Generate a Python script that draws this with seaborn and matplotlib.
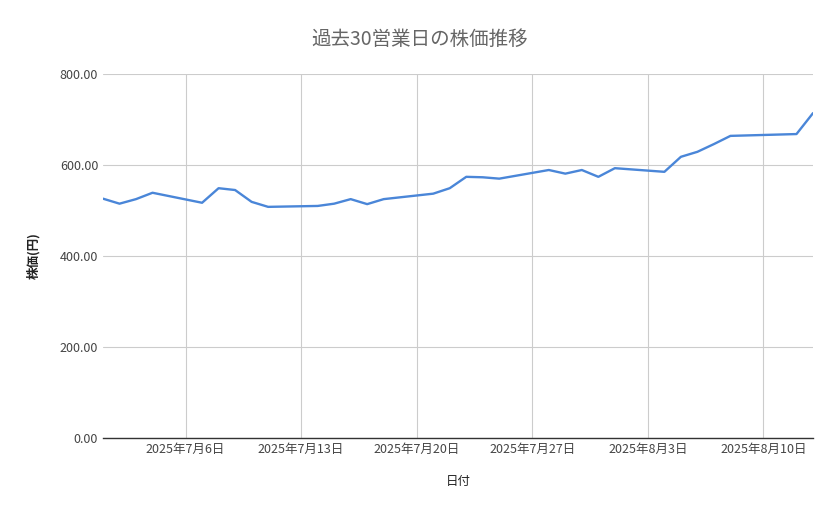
import matplotlib
matplotlib.use("Agg")
import matplotlib.pyplot as plt
import seaborn as sns
import pandas as pd

dates = ["2025-07-01","2025-07-02","2025-07-03","2025-07-04",
         "2025-07-07","2025-07-08","2025-07-09","2025-07-10","2025-07-11",
         "2025-07-14","2025-07-15","2025-07-16","2025-07-17","2025-07-18",
         "2025-07-21","2025-07-22","2025-07-23","2025-07-24","2025-07-25",
         "2025-07-28","2025-07-29","2025-07-30","2025-07-31","2025-08-01",
         "2025-08-04","2025-08-05","2025-08-06","2025-08-07","2025-08-08",
         "2025-08-11","2025-08-12","2025-08-13"]
prices = [526,515,525,539,
          517,549,545,519,508,
          510,515,525,514,525,
          537,549,574,573,570,
          589,581,589,574,593,
          585,618,629,646,664,
          667,668,714]
tick_dates = ["2025-07-06","2025-07-13","2025-07-20","2025-07-27","2025-08-03","2025-08-10"]

sns.set_theme(style="whitegrid")
plt.rcParams['font.family'] = ['Noto Sans CJK JP', 'DejaVu Sans']

df = pd.DataFrame({"date": pd.to_datetime(dates), "price": prices})
fig = plt.figure(figsize=(8.39, 5.19), dpi=100)
ax = fig.add_axes([103/839, 1-438/519, 710/839, 364/519])
sns.lineplot(data=df, x="date", y="price", ax=ax, color="#4a86d8", linewidth=1.7)

ax.set_xlim(df["date"].iloc[0], df["date"].iloc[-1])
ax.set_ylim(0, 800)
ax.set_yticks([0, 200, 400, 600, 800])
ax.set_yticklabels([f"{v:.2f}" for v in [0, 200, 400, 600, 800]])
td = pd.to_datetime(tick_dates)
ax.set_xticks(td)
ax.set_xticklabels([f"{d.year}年{d.month}月{d.day}日" for d in td])
ax.tick_params(axis="both", labelsize=9, colors="#444444", length=0)
ax.grid(True, color="#cccccc", linewidth=0.8)
for s in ["top", "right", "left"]:
    ax.spines[s].set_visible(False)
ax.spines["bottom"].set_color("#333333")
ax.spines["bottom"].set_linewidth(1)
ax.set_xlabel("日付", fontsize=9, color="#222222", labelpad=14)
ax.set_ylabel("株価(円)", fontsize=9, color="#222222", labelpad=14, fontweight="bold")
fig.text(0.5, 1-39/519, "過去30営業日の株価推移", ha="center", va="center", fontsize=14, color="#666666")
fig.savefig("out.png", dpi=100)
